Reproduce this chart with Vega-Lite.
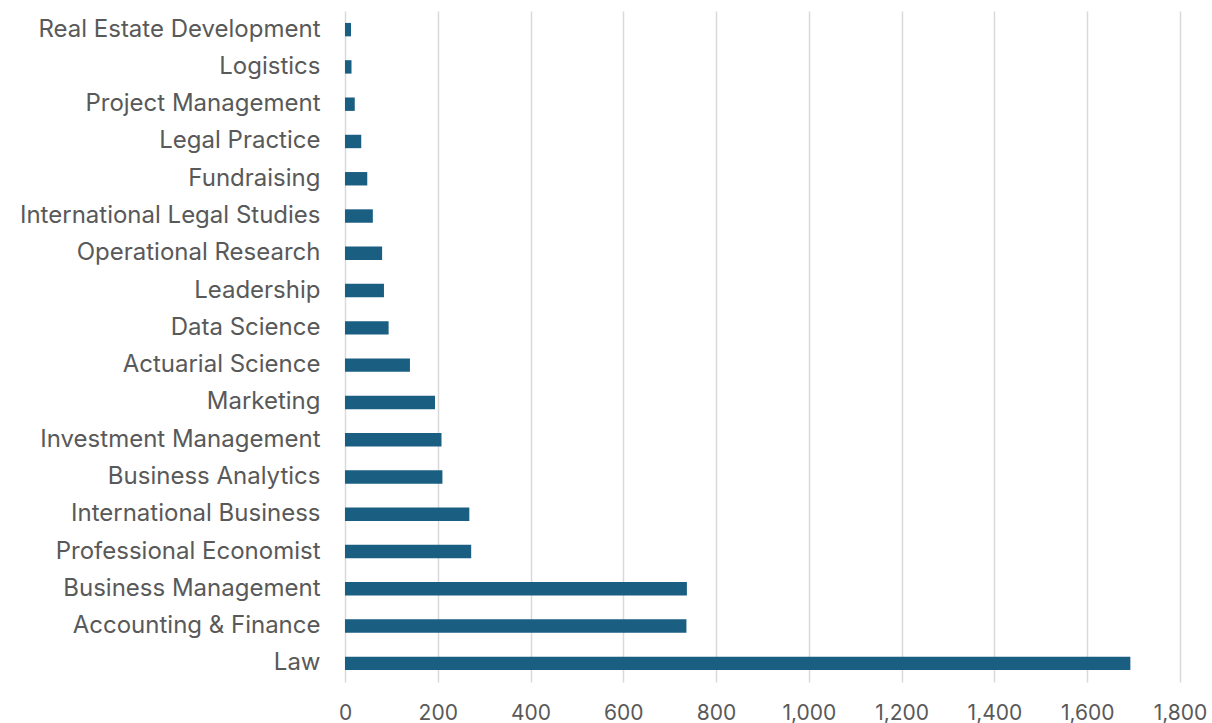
{
  "$schema": "https://vega.github.io/schema/vega-lite/v6.json",
  "width": 835,
  "height": 671,
  "autosize": {"type": "none"},
  "padding": {"left": 345, "top": 11, "right": 32, "bottom": 41},
  "background": "white",
  "data": {"values": [
    {"course": "Real Estate Development", "count": 13},
    {"course": "Logistics", "count": 14},
    {"course": "Project Management", "count": 21},
    {"course": "Legal Practice", "count": 35},
    {"course": "Fundraising", "count": 48},
    {"course": "International Legal Studies", "count": 60},
    {"course": "Operational Research", "count": 80},
    {"course": "Leadership", "count": 84},
    {"course": "Data Science", "count": 94},
    {"course": "Actuarial Science", "count": 140},
    {"course": "Marketing", "count": 194},
    {"course": "Investment Management", "count": 208},
    {"course": "Business Analytics", "count": 210},
    {"course": "International Business", "count": 268},
    {"course": "Professional Economist", "count": 272},
    {"course": "Business Management", "count": 737},
    {"course": "Accounting & Finance", "count": 736},
    {"course": "Law", "count": 1693}
  ]},
  "mark": {"type": "bar", "color": "#1a5e82"},
  "encoding": {
    "y": {
      "field": "course", "type": "nominal", "title": null,
      "sort": null,
      "scale": {"paddingInner": 0.64, "paddingOuter": 0.32},
      "axis": {"domain": false, "ticks": false, "labelFontSize": 24, "labelFont": "Inter", "labelColor": "#595959", "labelPadding": 25, "labelLimit": 400, "grid": false}
    },
    "x": {
      "field": "count", "type": "quantitative", "title": null,
      "scale": {"domain": [0, 1800], "nice": false},
      "axis": {"values": [0,200,400,600,800,1000,1200,1400,1600,1800], "format": ",.0f", "labelOverlap": false, "labelFlush": false, "domain": false, "ticks": false, "labelFontSize": 21, "labelFont": "Inter", "labelColor": "#595959", "labelPadding": 20, "gridColor": "#d9d9d9", "gridWidth": 1.5}
    }
  },
  "config": {"view": {"stroke": null}}
}
